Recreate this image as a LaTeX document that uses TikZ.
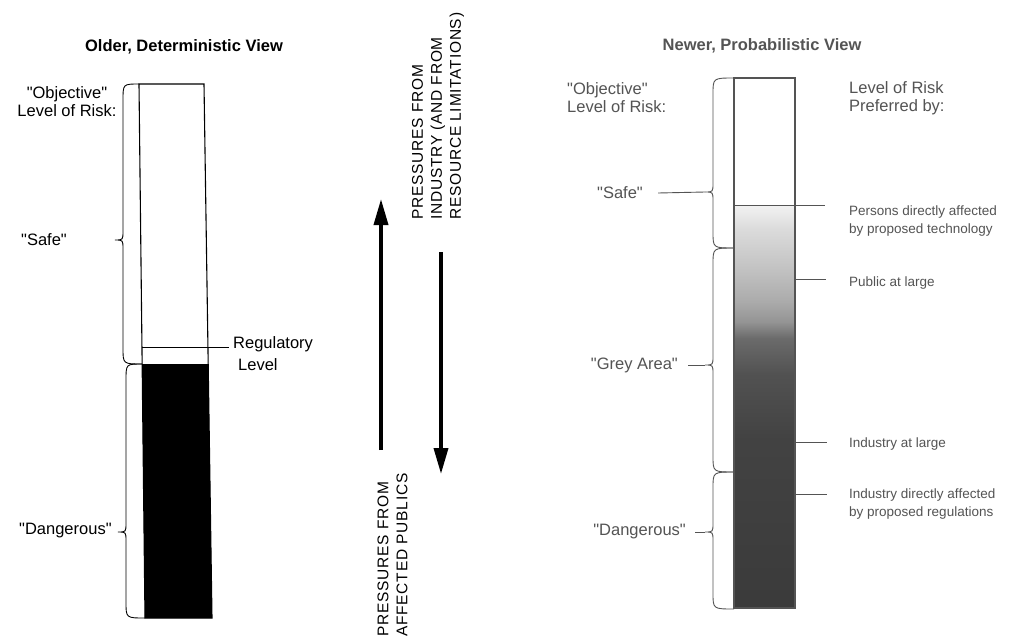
\documentclass[tikz,border=0pt]{standalone}
\usepackage{fontspec}
\newfontfamily\hv{Liberation Sans}
\newfontfamily\hvs{Liberation Sans}[LetterSpace=5]
\usetikzlibrary{arrows.meta}
\definecolor{rg}{gray}{0.33}
\pgfdeclareverticalshading{riskgrad}{100bp}{color(0bp)=(black!77); color(25bp)=(black!77); color(46bp)=(black!74); color(54bp)=(black!68); color(58.5bp)=(black!58); color(60.5bp)=(black!42); color(63bp)=(black!33); color(67bp)=(black!24); color(72bp)=(black!14); color(75bp)=(black!5); color(100bp)=(black!5)}
\newcommand\vbrace[7]{% top-end x, top y, bottom-end x, bottom y, spine x, tip y, colour
  \draw[#7,line width=0.9pt] (#1,#2) .. controls (#5,#2) .. (#5,#2+16) -- (#5,#6-9)
    .. controls (#5,#6) .. (#5-8,#6) .. controls (#5,#6) .. (#5,#6+9) -- (#5,#4-16)
    .. controls (#5,#4) .. (#3,#4);}
\begin{document}
\begin{tikzpicture}[x=1pt,y=-1pt,
  lab/.style={font=\hv\fontsize{16.5}{18}\selectfont,inner sep=0pt},
  small/.style={font=\hv\fontsize{13.5}{18}\selectfont,inner sep=0pt,text=rg,align=left,anchor=west},
  ttl/.style={font=\hv\bfseries\fontsize{16.5}{19}\selectfont,inner sep=0pt},
  vert/.style={font=\hvs\fontsize{15.5}{19}\selectfont,inner sep=0pt,rotate=90,align=left,anchor=west},
  bigarrow/.style={line width=3.6pt,-{Triangle[length=26pt,width=14pt]}},
  tick/.style={rg,line width=0.9pt}]
\useasboundingbox (0,0) rectangle (1019,640);
\fill[white] (0,0) rectangle (1019,640);

% ---------------- left panel ----------------
\node[ttl] (ltitle) at (184,47) {Older, Deterministic View};
\draw[line width=1.1pt] (139,84) -- (204,84) -- (212,618) -- (145,618) -- cycle;
\fill[black] (142.1,364) -- (208.2,364) -- (212,618) -- (145,618) -- cycle;
\coordinate (regL) at (141.8,347);
\coordinate (regR) at (229,347);
\draw[line width=0.9pt] (regL) -- (regR);
\node[lab,anchor=west] (reg1) at (233,344) {Regulatory};
\node[lab,anchor=west] (reg2) at (238,365) {Level};
\vbrace{139}{84}{142}{364}{123}{240}{black}
\vbrace{142}{364}{145}{618}{126}{532}{black}
\node[lab,align=center] (lobj) at (67,102) {"Objective"\\Level of Risk:};
\node[lab,anchor=west] (lsafe) at (21,240) {"Safe"};
\node[lab,anchor=west] (ldang) at (19,531) {"Dangerous"};

% ---------------- middle arrows ----------------
\coordinate (upS) at (381,450);
\coordinate (upE) at (381,199);
\coordinate (dnS) at (441,252);
\coordinate (dnE) at (441,474);
\draw[bigarrow] (upS) -- (upE);
\draw[bigarrow] (dnS) -- (dnE);
\node[vert] (pub) at (392.5,637) {PRESSURES FROM\\AFFECTED PUBLICS};
\node[vert] (ind) at (438,220) {PRESSURES FROM\\INDUSTRY (AND FROM\\RESOURCE LIMITATIONS)};

% ---------------- right panel ----------------
\node[ttl,text=rg] (rtitle) at (762,46) {Newer, Probabilistic View};
\shade[shading=riskgrad] (734,205) rectangle (795,608);
\draw[rg,line width=1.1pt] (734,78) rectangle (795,608);
\coordinate (t1a) at (734,205); \coordinate (t1b) at (825,205);
\coordinate (t2a) at (795,279); \coordinate (t2b) at (826,279);
\coordinate (t3a) at (796,442); \coordinate (t3b) at (827,442);
\coordinate (t4a) at (796,494); \coordinate (t4b) at (827,494);
\draw[tick] (t1a) -- (t1b);
\draw[tick] (t2a) -- (t2b);
\draw[tick] (t3a) -- (t3b);
\draw[tick] (t4a) -- (t4b);
\node[small] (p1) at (849,221) {Persons directly affected\\by proposed technology};
\node[small] (p2) at (849,283) {Public at large};
\node[small] (p3) at (849,444) {Industry at large};
\node[small] (p4) at (849,504) {Industry directly affected\\by proposed regulations};

\node[lab,text=rg,align=left,anchor=west] (robj) at (567,98) {"Objective"\\Level of Risk:};
\node[lab,text=rg,align=left,anchor=west] (rpref) at (849,98) {Level of Risk\\Preferred by:};

\vbrace{734}{78}{734}{248}{713}{192}{rg}
\vbrace{734}{248}{734}{472}{713}{365}{rg}
\vbrace{734}{472}{734}{609}{713}{532}{rg}
\coordinate (tipS) at (705,192);
\coordinate (tipG) at (705,365);
\coordinate (tipD) at (705,532);
\node[lab,text=rg,anchor=east] (rsafe) at (643,193) {"Safe"};
\node[lab,text=rg,anchor=east] (rgrey) at (678,365) {"Grey Area"};
\node[lab,text=rg,anchor=east] (rdang) at (686,532) {"Dangerous"};
\draw[tick] ([xshift=15pt]rsafe.east) -- (tipS);
\draw[tick] ([xshift=10pt]rgrey.east) -- (tipG);
\draw[tick] ([xshift=9pt]rdang.east) -- (tipD);
\end{tikzpicture}
\end{document}
